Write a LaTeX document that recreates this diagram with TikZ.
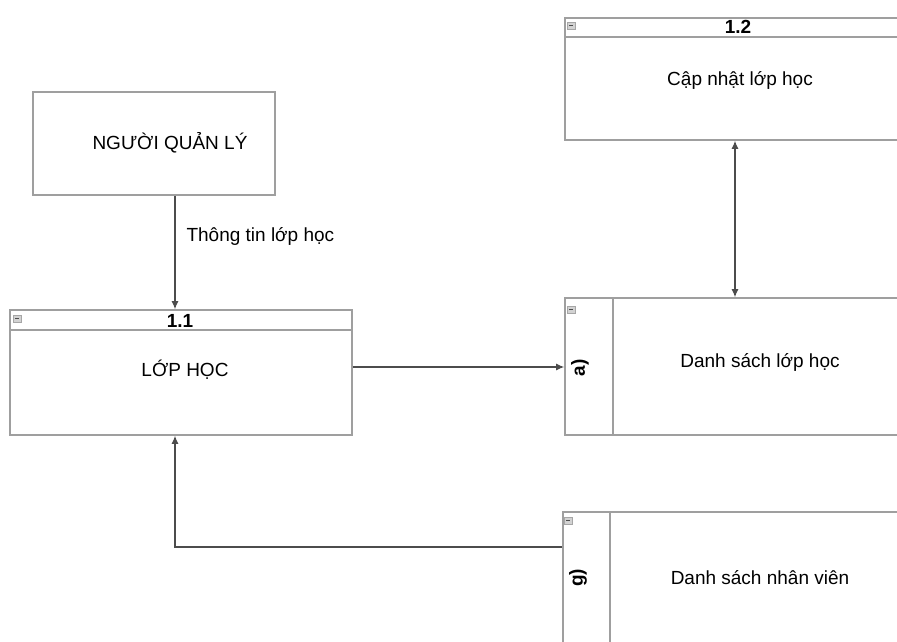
\documentclass[tikz,border=0pt]{standalone}
\usepackage{fontspec}
\setmainfont{Liberation Sans}
\usetikzlibrary{arrows.meta,positioning,calc}

\begin{document}
\begin{tikzpicture}[
    x=1pt, y=-1pt,
    every node/.style={font=\fontsize{19}{22}\selectfont},
    box/.style={draw=gray!75, line width=1.6pt, rectangle, inner sep=0pt},
    title/.style={font=\fontsize{19}{22}\selectfont\bfseries},
    flow/.style={draw=black!70, line width=1.1pt, -{Latex[length=8pt,width=7pt]}}
]
    \useasboundingbox (0,0) rectangle (897,642);
    \clip (0,0) rectangle (897,642);

    % External entity
    \node[box, minimum width=242pt, minimum height=103pt] (nql) at (154,143.5) {};
    \node (nqltext) at (170,143) {NGƯỜI QUẢN LÝ};

    % Process 1.1
    \node[box, minimum width=342pt, minimum height=125pt] (p11) at (181,372.5) {};
    \draw[box] ([yshift=-21pt]p11.north west) -- ([yshift=-21pt]p11.north east);
    \node[title] (p11title) at (180,321) {1.1};
    \node (p11text) at (185,370) {LỚP HỌC};

    % Process 1.2
    \node[box, minimum width=365pt, minimum height=122pt] (p12) at (747.5,79) {};
    \draw[box] ([yshift=-20pt]p12.north west) -- ([yshift=-20pt]p12.north east);
    \node[title] (p12title) at (738,27) {1.2};
    \node (p12text) at (740,80) {Cập nhật lớp học};

    % Data store a)
    \node[box, minimum width=365pt, minimum height=137pt] (dslh) at (747.5,366.5) {};
    \draw[box] ([xshift=49pt]dslh.north west) -- ([xshift=49pt]dslh.south west);
    \node[title, rotate=90] (dslhid) at (580,368) {a)};
    \node (dslhtext) at (760,362) {Danh sách lớp học};

    % Data store g)
    \node[box, minimum width=367pt, minimum height=148pt] (dsnv) at (746.5,586) {};
    \draw[box] ([xshift=48pt]dsnv.north west) -- ([xshift=48pt]dsnv.south west);
    \node[title, rotate=90] (dsnvid) at (578,578) {g)};
    \node (dsnvtext) at (760,578) {Danh sách nhân viên};

    % Collapse icons
    \foreach \ix/\iy in {13/315, 567/22, 567/306, 564/517} {
        \draw[gray!70, fill=gray!35, line width=0.6pt] (\ix,\iy) rectangle ++(8,7);
        \draw[black!70, line width=1pt] (\ix+2,\iy+3.5) -- ++(4,0);
    }

    % Flows
    \draw[flow] ([xshift=21pt]nql.south) -- ([xshift=21pt]nql.south |- p11.north);
    \node[right] (lbl) at (183,236) {Thông tin lớp học};
    \draw[flow] ([yshift=5.5pt]p11.east) -- ([yshift=5.5pt]p11.east -| dslh.west);
    \draw[flow, {Latex[length=8pt,width=7pt]}-{Latex[length=8pt,width=7pt]}] ([xshift=-12.5pt]p12.south) -- ([xshift=-12.5pt]dslh.north);
    \draw[flow] ([yshift=39pt]dsnv.west) -| ([xshift=-6pt]p11.south);
\end{tikzpicture}
\end{document}
